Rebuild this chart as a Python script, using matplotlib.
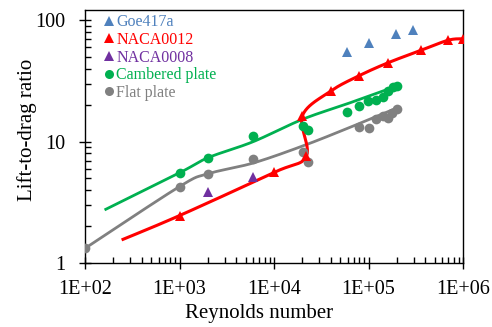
import numpy as np
import matplotlib
matplotlib.use("Agg")
import matplotlib.pyplot as plt
from matplotlib.lines import Line2D
from matplotlib.ticker import LogLocator, FixedLocator, NullFormatter, FuncFormatter

plt.rcParams['font.family'] = ['Liberation Serif', 'DejaVu Serif']

# Measured lift-to-drag ratios
goe_re = [58700, 100000, 197000, 296000]
goe_ld = [54.7, 65.4, 77.1, 83.2]

naca12_re = [1000, 10000, 22000, 20000, 40000, 80000, 160000, 360000, 700000, 1000000]
naca12_ld = [2.46, 5.58, 7.6, 16.4, 26.2, 35.1, 44.7, 56.8, 68.8, 70.6]

naca08_re = [2000, 6000]
naca08_ld = [3.88, 5.11]

camb_re = [1000, 2000, 6000, 20400, 23100, 59200, 79400, 99600, 120000, 141000, 162000, 183000, 202000]
camb_ld = [5.54, 7.38, 11.2, 13.6, 12.6, 17.6, 19.6, 21.5, 22.2, 23.2, 26.0, 28.3, 29.0]

flat_re = [100, 1000, 2000, 6000, 20400, 23000, 79400, 100000, 120000, 141000, 162000, 178000, 202000]
flat_ld = [1.32, 4.27, 5.44, 7.19, 8.16, 6.75, 13.2, 13.0, 15.5, 16.4, 15.7, 17.3, 18.6]

# Trend curve knots
naca12_curve_re = [244, 1000, 10000, 22000, 20000, 40000, 80000, 160000, 360000, 700000, 1000000]
naca12_curve_ld = [1.55, 2.46, 5.58, 7.6, 16.4, 26.2, 35.1, 44.7, 56.8, 68.8, 70.6]
camb_curve_re = [161, 1000, 2000, 6000, 20000, 60000, 150000]
camb_curve_ld = [2.74, 5.54, 7.38, 10.0, 15.3, 20.6, 26.6]
flat_curve_re = [100, 1000, 2000, 6000, 20000, 60000, 200000]
flat_curve_ld = [1.32, 4.27, 5.44, 6.67, 9.21, 12.9, 19.0]

C_BLUE = '#4F81BD'
C_RED = '#FF0000'
C_PURPLE = '#7030A0'
C_GREEN = '#00B050'
C_GRAY = '#808080'


def smooth_curve(xs, ys, n=40):
    """Bezier smoothing through knots in log-log space (Catmull-Rom style)."""
    P = np.column_stack([np.log10(xs), np.log10(ys)])
    P = np.vstack([P[0], P, P[-1]])
    t = np.linspace(0, 1, n)[:, None]
    segs = []
    for i in range(1, len(P) - 2):
        p0, p1, p2, p3 = P[i - 1], P[i], P[i + 1], P[i + 2]
        c1 = p1 + (p2 - p0) / 6
        c2 = p2 - (p3 - p1) / 6
        seg = (1 - t) ** 3 * p1 + 3 * (1 - t) ** 2 * t * c1 + 3 * (1 - t) * t ** 2 * c2 + t ** 3 * p2
        segs.append(seg)
    Q = np.vstack(segs)
    return 10 ** Q[:, 0], 10 ** Q[:, 1]


fig = plt.figure(figsize=(4.92, 3.27), dpi=100)
ax = fig.add_axes([85 / 492, 1 - 263 / 327, (463 - 85) / 492, (263 - 10) / 327])

for cx, cy, col, w in [(flat_curve_re, flat_curve_ld, C_GRAY, 2.0),
                       (camb_curve_re, camb_curve_ld, C_GREEN, 2.0),
                       (naca12_curve_re, naca12_curve_ld, C_RED, 2.2)]:
    sx, sy = smooth_curve(cx, cy)
    ax.plot(sx, sy, color=col, lw=w, solid_capstyle='butt', zorder=2)

ms_c = 7
ms_t = 7
ax.plot(flat_re, flat_ld, 'o', color=C_GRAY, ms=ms_c, mew=0, zorder=3)
ax.plot(camb_re, camb_ld, 'o', color=C_GREEN, ms=ms_c, mew=0, zorder=3)
ax.plot(naca08_re, naca08_ld, '^', color=C_PURPLE, ms=ms_t, mew=0, zorder=3)
ax.plot(naca12_re, naca12_ld, '^', color=C_RED, ms=ms_t, mew=0, zorder=4)
ax.plot(goe_re, goe_ld, '^', color=C_BLUE, ms=ms_t, mew=0, zorder=3)

ax.set_xscale('log')
ax.set_yscale('log')
ax.set_xlim(100, 1e6)
ax.set_ylim(1, 122)

ax.xaxis.set_major_locator(FixedLocator([1e2, 1e3, 1e4, 1e5, 1e6]))
ax.yaxis.set_major_locator(FixedLocator([1, 10, 100]))
ax.xaxis.set_minor_locator(LogLocator(base=10, subs=np.arange(2, 10)))
ax.yaxis.set_minor_locator(LogLocator(base=10, subs=np.arange(2, 10)))
ax.xaxis.set_minor_formatter(NullFormatter())
ax.yaxis.set_minor_formatter(NullFormatter())
ax.xaxis.set_major_formatter(FuncFormatter(lambda v, p: '1E+%02d' % int(round(np.log10(v)))))
ax.yaxis.set_major_formatter(FuncFormatter(lambda v, p: '%d' % int(round(v))))

ax.tick_params(axis='both', which='major', direction='inout', length=8, width=1,
               labelsize=14.5, colors='black')
ax.tick_params(axis='x', which='major', pad=8)
ax.tick_params(axis='y', which='major', pad=10)
ax.tick_params(axis='both', which='minor', direction='in', length=4, width=1)
for s in ax.spines.values():
    s.set_linewidth(1.0)
    s.set_color('black')

ax.set_xlabel('Reynolds number', fontsize=15)
ax.set_ylabel('Lift-to-drag ratio', fontsize=15)
ax.xaxis.set_label_coords(0.46, -0.162)
ax.yaxis.set_label_coords(-0.127, 0.526)

handles = [
    Line2D([], [], ls='none', marker='^', color=C_BLUE, ms=6.5, mew=0),
    Line2D([], [], ls='none', marker='^', color=C_RED, ms=6.5, mew=0),
    Line2D([], [], ls='none', marker='^', color=C_PURPLE, ms=6.5, mew=0),
    Line2D([], [], ls='none', marker='o', color=C_GREEN, ms=6.5, mew=0),
    Line2D([], [], ls='none', marker='o', color=C_GRAY, ms=6.5, mew=0),
]
labels = ['Goe417a', 'NACA0012', 'NACA0008', 'Cambered plate', 'Flat plate']
leg = ax.legend(handles, labels, loc='upper left', frameon=False, fontsize=11.5,
                handlelength=0.5, handletextpad=0.2, labelspacing=0.1,
                bbox_to_anchor=(0.045, 0.995), borderaxespad=0.0, borderpad=0.2)
for txt, col in zip(leg.get_texts(), [C_BLUE, C_RED, C_PURPLE, C_GREEN, C_GRAY]):
    txt.set_color(col)

fig.savefig('out.png', dpi=100)
